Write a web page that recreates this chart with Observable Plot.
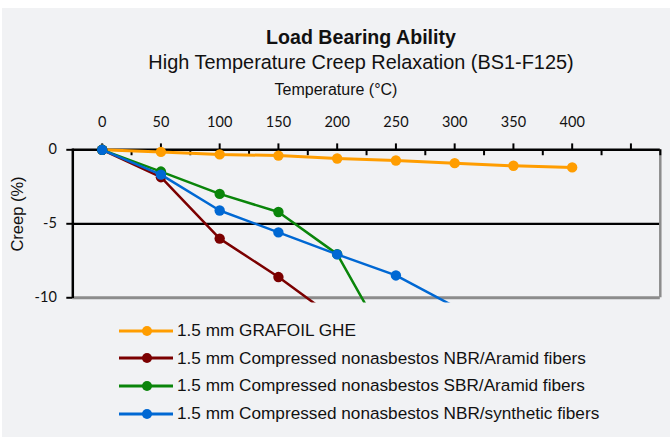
<!DOCTYPE html>
<html>
<head>
<meta charset="utf-8">
<script src="https://cdn.jsdelivr.net/npm/d3@7"></script>
<script src="https://cdn.jsdelivr.net/npm/@observablehq/plot@0.6"></script>
<style>
  html, body { margin: 0; padding: 0; background: #ffffff; }
  #wrap { position: relative; width: 670px; height: 437px; overflow: hidden; }
  #panel { position: absolute; left: 2px; top: 8px; right: 0; bottom: 0; background: #f1f2f4; }
  #chart { position: absolute; left: 0; top: 0; }
  .lbl { position: absolute; transform: translate(-50%, -50%); white-space: nowrap; line-height: 1;
         font-family: "Liberation Sans", Arial, sans-serif; color: #111; }
  #legend { position: absolute; left: 0; top: 0; }
  .leg { position: absolute; left: 119px; height: 20px; transform: translateY(-50%); display: flex; align-items: center;
         font-family: "Liberation Sans", Arial, sans-serif; font-size: 17.2px; color: #111; white-space: nowrap; }
  .leg svg { margin-right: 4px; }
</style>
</head>
<body>
<div id="wrap">
  <div id="panel"></div>
  <div class="lbl" style="left:361px; top:38px; font-size:19.6px; font-weight:bold;">Load Bearing Ability</div>
  <div class="lbl" style="left:361px; top:63px; font-size:19.9px;">High Temperature Creep Relaxation (BS1-F125)</div>
  <div class="lbl" style="left:336px; top:90px; font-size:16px;">Temperature (°C)</div>
  <div class="lbl" style="left:17px; top:214px; font-size:16.5px; transform: translate(-50%, -50%) rotate(-90deg);">Creep (%)</div>
  <div id="chart"></div>
  <div id="legend"></div>
</div>
<script>
// ---- data ----
const temps = [0, 50, 100, 150, 200, 250, 300, 350, 400];
const seriesNames = [
  "1.5 mm GRAFOIL GHE",
  "1.5 mm Compressed nonasbestos NBR/Aramid fibers",
  "1.5 mm Compressed nonasbestos SBR/Aramid fibers",
  "1.5 mm Compressed nonasbestos NBR/synthetic fibers"
];
const seriesColors = ["#ff9d00", "#7b0000", "#0a850a", "#0068d3"];
const grafoil      = [0, -0.14, -0.31, -0.39, -0.59, -0.72, -0.9, -1.08, -1.19];
const nbrAramid    = [0, -1.85, -6.0, -8.6, -11.5];
const sbrAramid    = [0, -1.47, -2.98, -4.2, -7.05, -14.1];
const nbrSynthetic = [0, -1.68, -4.1, -5.58, -7.07, -8.49, -10.6];
const xTickLabels  = [0, 50, 100, 150, 200, 250, 300, 350, 400];
const majorTicks   = [0, 50, 100, 150, 200, 250, 300, 350, 400, 450];
const minorTicks   = [25, 75, 125, 175, 225, 275, 325, 375, 425, 475];
const yTickValues  = [0, -5, -10];

const yMin = -10.36, yMax = 0.4;
const allSeries = [grafoil, nbrAramid, sbrAramid, nbrSynthetic];
const rowsBySeries = allSeries.map((vals, s) =>
  vals.map((v, i) => ({series: seriesNames[s], temp: temps[i], creep: v})));

const tickFont = "Lato, 'Open Sans', sans-serif";

// markers whose centre lies outside the plot area are not drawn (as in the source chart)
const seriesMarks = rowsBySeries.flatMap((rows, s) => [
  Plot.line(rows, {x: "temp", y: "creep", stroke: "series", strokeWidth: s === 0 ? 3 : 2.5, clip: true}),
  Plot.dot(rows, {x: "temp", y: "creep", fill: "series", r: 5.2, clip: true, filter: d => d.creep >= yMin})
]);

const chart = Plot.plot({
  width: 670,
  height: 437,
  marginLeft: 72.3,
  marginRight: 10.2,
  marginTop: 143.4,
  marginBottom: 134.4,
  style: {background: "transparent", overflow: "visible"},
  x: {domain: [-25, 475], axis: null},
  y: {domain: [yMin, yMax], axis: null},
  color: {domain: seriesNames, range: seriesColors},
  marks: [
    Plot.ruleY([-5], {x1: -25, x2: 475, stroke: "#000", strokeWidth: 2.2}),
    Plot.ruleY([-10], {x1: -25, x2: 475, stroke: "#8c8c8c", strokeWidth: 3}),
    Plot.ruleX([475], {y1: -10, y2: 0, stroke: "#8c8c8c", strokeWidth: 2.5}),
    Plot.ruleX([-25], {y1: -10.05, y2: 0.05, stroke: "#000", strokeWidth: 2.5}),
    Plot.ruleY([0], {x1: -25, x2: 475, stroke: "#000", strokeWidth: 2.5}),
    Plot.ruleX(majorTicks, {y1: 0, y2: 0.4, stroke: "#000", strokeWidth: 2}),
    Plot.ruleX(minorTicks, {y1: 0, y2: -0.4, stroke: "#000", strokeWidth: 2}),
    Plot.ruleY(yTickValues, {x1: -30.1, x2: -25, stroke: "#000", strokeWidth: 2}),
    Plot.text(xTickLabels, {x: d => d, text: d => String(d), frameAnchor: "top", dy: -27,
      fontFamily: tickFont, fontSize: 14.5, fill: "#111"}),
    Plot.text(yTickValues, {y: d => d, text: d => String(d), frameAnchor: "left", dx: -16, textAnchor: "end",
      fontFamily: tickFont, fontSize: 14.5, fill: "#111"}),
    ...seriesMarks
  ]
});
document.getElementById("chart").appendChild(chart);

// ---- legend ----
const legendY = [330.7, 358.3, 385.9, 413.5];
const legend = document.getElementById("legend");
seriesNames.forEach((name, i) => {
  const row = document.createElement("div");
  row.className = "leg";
  row.style.top = legendY[i] + "px";
  row.innerHTML = `<svg width="54" height="14"><line x1="0" y1="7" x2="54" y2="7" stroke="${seriesColors[i]}" stroke-width="3"/><circle cx="28" cy="7" r="5" fill="${seriesColors[i]}"/></svg>`;
  const span = document.createElement("span");
  span.textContent = name;
  row.appendChild(span);
  legend.appendChild(row);
});
</script>
</body>
</html>
